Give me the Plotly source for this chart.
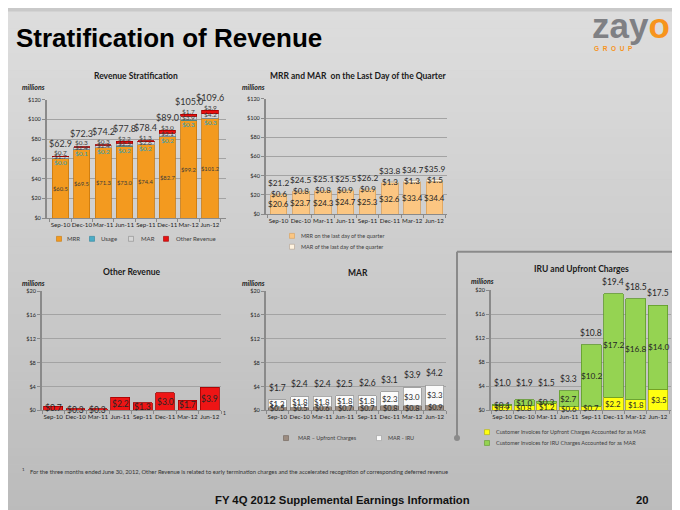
import plotly.graph_objects as go

W, H = 680, 510
FONT = "Lato, Open Sans, sans-serif"
SANS = "Liberation Sans, Arial, sans-serif"

quarters = ["Sep-10", "Dec-10", "Mar-11", "Jun-11", "Sep-11", "Dec-11", "Mar-12", "Jun-12"]

# Revenue Stratification
rev_mrr = [60.5, 69.5, 71.3, 73.0, 74.4, 82.7, 99.2, 101.2]
rev_usage = [0.0, 0.1, 0.2, 0.2, 0.2, 0.2, 0.3, 0.3]
rev_mar = [1.7, 2.4, 2.4, 2.5, 2.6, 3.1, 3.9, 4.2]
rev_other = [0.7, 0.3, 0.3, 2.2, 1.3, 3.0, 1.7, 3.9]
rev_total = [62.9, 72.3, 74.2, 77.8, 78.4, 89.0, 105.0, 109.6]

# MRR and MAR on the last day of the quarter
ld_mrr = [20.6, 23.7, 24.3, 24.7, 25.3, 32.6, 33.4, 34.4]
ld_mar = [0.6, 0.8, 0.8, 0.9, 0.9, 1.3, 1.3, 1.5]
ld_total = [21.2, 24.5, 25.1, 25.5, 26.2, 33.8, 34.7, 35.9]

# Other Revenue
other_rev = [0.7, 0.3, 0.3, 2.2, 1.3, 3.0, 1.7, 3.9]

# MAR
mar_upfront = [0.5, 0.5, 0.6, 0.7, 0.7, 0.8, 0.8, 0.9]
mar_iru = [1.3, 1.8, 1.8, 1.8, 1.8, 2.3, 3.0, 3.3]
mar_total = [1.7, 2.4, 2.4, 2.5, 2.6, 3.1, 3.9, 4.2]

# IRU and Upfront Charges
inv_upfront = [0.9, 0.8, 1.2, 0.6, 0.7, 2.2, 1.8, 3.5]
inv_iru = [0.1, 1.0, 0.3, 2.7, 10.2, 17.2, 16.8, 14.0]
inv_total = [1.0, 1.9, 1.5, 3.3, 10.8, 19.4, 18.5, 17.5]


def xp(px):
    return px / W


def yp(py):
    return 1 - py / H


def money(v):
    return "${:.1f}".format(v)


fig = go.Figure()
layout = dict(
    width=W, height=H, margin=dict(l=0, r=0, t=0, b=0),
    paper_bgcolor="#c9c9c9", plot_bgcolor="rgba(0,0,0,0)",
    barmode="stack", showlegend=False, font=dict(family=FONT, color="#333333"),
)
shapes = []
annotations = []

# background gradient
nb = 60
for i in range(nb):
    t = i / (nb - 1)
    c = int(round(221 - (221 - 187) * t))
    shapes.append(dict(type="rect", xref="paper", yref="paper", layer="below",
                       x0=0, x1=1, y0=1 - (i + 1) / nb, y1=1 - i / nb + 0.001,
                       fillcolor="rgb({0},{0},{0})".format(c), line=dict(width=0)))

panels = {
    1: dict(x=(39, 218), y=(209, 89), rng=(0, 120), dtick=20),
    2: dict(x=(258, 439), y=(205, 88), rng=(0, 120), dtick=20),
    3: dict(x=(34, 213), y=(404, 283), rng=(0, 20), dtick=4),
    4: dict(x=(258, 438), y=(404, 283), rng=(0, 20), dtick=4),
    5: dict(x=(483, 663), y=(404, 282), rng=(0, 20), dtick=4),
}
for i, p in panels.items():
    s = "" if i == 1 else str(i)
    layout["xaxis" + s] = dict(
        domain=[xp(p["x"][0]), xp(p["x"][1])], anchor="y" + s, type="category",
        categoryorder="array", categoryarray=quarters, tickangle=0,
        showline=True, linecolor="#8a8a8a", linewidth=1, ticks="outside",
        tickson="boundaries", ticklen=3, tickcolor="#8a8a8a",
        tickfont=dict(size=6.2, color="#1f1f1f", family=FONT), showgrid=False,
    )
    layout["yaxis" + s] = dict(
        domain=[yp(p["y"][0]), yp(p["y"][1])], anchor="x" + s,
        range=list(p["rng"]), dtick=p["dtick"], tickprefix="$",
        showgrid=True, gridcolor="#a3a3a3", gridwidth=1, zeroline=False,
        showline=True, linecolor="#8a8a8a", linewidth=2, ticks="outside",
        ticklen=3, tickcolor="#8a8a8a",
        tickfont=dict(size=5.6, color="#262626", family=FONT),
    )


def add_bar(i, vals, color, line, width, name):
    s = "" if i == 1 else str(i)
    fig.add_trace(go.Bar(x=quarters, y=vals, name=name, xaxis="x" + s, yaxis="y" + s,
                         width=width, marker=dict(color=color, line=dict(color=line, width=0.8)),
                         cliponaxis=False, hoverinfo="skip"))


def lab(i, x, y, text, size, color="#262626", yshift=0):
    s = "" if i == 1 else str(i)
    annotations.append(dict(xref="x" + s, yref="y" + s, x=x, y=y, text=text, showarrow=False,
                            yshift=yshift, font=dict(size=size, color=color, family=FONT)))


def ptext(px, py, text, size, color="#262626", anchor="center", family=FONT, bold=False, italic=False):
    if bold:
        text = "<b>" + text + "</b>"
    if italic:
        text = "<i>" + text + "</i>"
    annotations.append(dict(xref="paper", yref="paper", x=xp(px), y=yp(py), text=text,
                            showarrow=False, xanchor=anchor, yanchor="middle",
                            font=dict(size=size, color=color, family=family)))


def swatch(px, py, color, line="#7f7f7f", size=5):
    shapes.append(dict(type="rect", xref="paper", yref="paper",
                       x0=xp(px - size / 2), x1=xp(px + size / 2),
                       y0=yp(py + size / 2), y1=yp(py - size / 2),
                       fillcolor=color, line=dict(color=line, width=0.6)))


# ---- Panel 1: Revenue Stratification
add_bar(1, rev_mrr, "#f39a1f", "#c8780c", 0.76, "MRR")
add_bar(1, rev_usage, "#4bacc6", "#31859c", 0.76, "Usage")
add_bar(1, rev_mar, "#d6d6d6", "#8c8c8c", 0.76, "MAR")
add_bar(1, rev_other, "#e81010", "#a00000", 0.76, "Other Revenue")
for q, m, u, a, o, t in zip(quarters, rev_mrr, rev_usage, rev_mar, rev_other, rev_total):
    lab(1, q, m / 2, money(m), 5.8, "#3a3a3a")
    lab(1, q, m + u / 2, money(u), 6.5, "#2aa0bb", yshift=-4)
    lab(1, q, m + u + a / 2, money(a), 6.5, "#404040", yshift=1)
    lab(1, q, m + u + a + o / 2, money(o), 6.5, "#404040", yshift=4)
    lab(1, q, t, money(t), 9, "#333333", yshift=13)

# ---- Panel 2: MRR and MAR on the last day
add_bar(2, ld_mrr, "#fbc682", "#d9a05a", 0.74, "MRR on the last day of the quarter")
add_bar(2, ld_mar, "#fff3e0", "#c9b9a0", 0.74, "MAR of the last day of the quarter")
for q, m, a, t in zip(quarters, ld_mrr, ld_mar, ld_total):
    lab(2, q, m / 2, money(m), 8)
    lab(2, q, m + a / 2, money(a), 8)
    lab(2, q, t, money(t), 8.3, yshift=11)

# ---- Panel 3: Other Revenue
add_bar(3, other_rev, "#ee1515", "#a00000", 0.84, "Other Revenue")
for q, o in zip(quarters, other_rev):
    lab(3, q, o / 2, money(o), 8.5)

# ---- Panel 4: MAR
add_bar(4, mar_upfront, "#9c8c80", "#6e6258", 0.78, "MAR \u2013 Upfront Charges")
add_bar(4, mar_iru, "#fbfbfb", "#9a9a9a", 0.78, "MAR - IRU")
for q, u, r, t in zip(quarters, mar_upfront, mar_iru, mar_total):
    lab(4, q, u / 2, money(u), 7.3)
    lab(4, q, u + r / 2, money(r), 7.8)
    lab(4, q, t, money(t), 8.5, yshift=12)

# ---- Panel 5: IRU and Upfront Charges
add_bar(5, inv_upfront, "#ffff10", "#b0b000", 0.88, "Customer Invoices for Upfront Charges Accounted for as MAR")
add_bar(5, inv_iru, "#95d352", "#5f9a2a", 0.88, "Customer Invoices for IRU Charges Accounted for as MAR")
for q, u, r, t in zip(quarters, inv_upfront, inv_iru, inv_total):
    lab(5, q, u / 2, money(u), 7.8)
    lab(5, q, u + r / 2, money(r), 8.3)
    lab(5, q, max(t, 2.6), money(t), 8.5, yshift=12)

# ---- chart titles & "millions"
ptext(128, 65, "Revenue Stratification", 8.5, "#1a1a1a", bold=True)
ptext(350, 65, "MRR and MAR  on the Last Day of the Quarter", 8.5, "#1a1a1a", bold=True)
ptext(124, 264, "Other Revenue", 8.5, "#1a1a1a", bold=True)
ptext(350, 265, "MAR", 8.5, "#1a1a1a", bold=True)
ptext(573, 261, "IRU and Upfront Charges", 8.5, "#1a1a1a", bold=True)
for mx, my in [(12, 76), (232, 76), (12, 275), (232, 275), (461, 273)]:
    ptext(mx, my, "millions", 7, "#1a1a1a", anchor="left", bold=True, italic=True)

# ---- legends
swatch(51, 230, "#f39a1f", "#c8780c")
ptext(57, 230, "MRR", 6, "#404040", anchor="left")
swatch(84, 230, "#4bacc6", "#31859c")
ptext(91, 230, "Usage", 6, "#404040", anchor="left")
swatch(123, 230, "#d6d6d6", "#8c8c8c")
ptext(131, 230, "MAR", 6, "#404040", anchor="left")
swatch(158, 230, "#e81010", "#a00000")
ptext(166, 230, "Other Revenue", 6, "#404040", anchor="left")

swatch(284, 227, "#fbc682", "#d9a05a")
ptext(291, 227, "MRR on the last day of the quarter", 5.5, "#404040", anchor="left")
swatch(284, 238, "#fff3e0", "#b0a090")
ptext(291, 238, "MAR of the last day of the quarter", 5.5, "#404040", anchor="left")

swatch(278, 432, "#9c8c80", "#6e6258")
ptext(288, 432, "MAR \u2013 Upfront Charges", 5.5, "#404040", anchor="left")
swatch(371, 432, "#fbfbfb", "#9a9a9a")
ptext(378, 432, "MAR - IRU", 5.5, "#404040", anchor="left")

swatch(479, 426, "#ffff10", "#b0b000")
ptext(486, 426, "Customer Invoices for Upfront Charges Accounted for as MAR", 5.5, "#404040", anchor="left")
swatch(479, 437, "#95d352", "#5f9a2a")
ptext(486, 437, "Customer Invoices for IRU Charges Accounted for as MAR", 5.5, "#404040", anchor="left")

# footnote marker on Other Revenue chart
ptext(216, 407, "1", 5, "#262626")

# decorative connector lines
shapes.append(dict(type="line", xref="paper", yref="paper", x0=xp(449), x1=xp(672), y0=yp(243), y1=yp(243),
                   line=dict(color="#8a8a8a", width=2)))
shapes.append(dict(type="line", xref="paper", yref="paper", x0=xp(449), x1=xp(449), y0=yp(243), y1=yp(431),
                   line=dict(color="#8a8a8a", width=2)))
for cx, cy in [(672, 243), (449, 432)]:
    shapes.append(dict(type="circle", xref="paper", yref="paper", x0=xp(cx - 3), x1=xp(cx + 3),
                       y0=yp(cy + 3), y1=yp(cy - 3), fillcolor="#8a8a8a", line=dict(width=0)))

# header
ptext(6, 26, "Stratification of Revenue", 26, "#000000", anchor="left", family=SANS, bold=True)
annotations.append(dict(xref="paper", yref="paper", x=xp(664), y=yp(14), showarrow=False,
                        text="<b><span style='color:#7f8084'>zay</span><span style='color:#f7941d'>o</span></b>",
                        font=dict(size=35, family=SANS),
                        xanchor="right", yanchor="middle"))
ptext(605, 37, "G\u00a0\u00a0R\u00a0\u00a0O\u00a0\u00a0U\u00a0\u00a0P", 6.5, "#f7941d", family=SANS, bold=True)

# footnote & footer
ptext(12, 464, "1", 4.5, "#333333", anchor="left")
ptext(20, 466, "For the three months ended June 30, 2012, Other Revenue is related to early termination charges "
               "and the accelerated recognition of corresponding deferred revenue", 5.8, "#333333", anchor="left")
ptext(334, 495, "FY 4Q 2012 Supplemental Earnings Information", 11.3, "#111111", family=SANS, bold=True)
ptext(634, 495, "20", 11.3, "#111111", family=SANS, bold=True)

layout["shapes"] = shapes
layout["annotations"] = annotations
fig.update_layout(**layout)
fig.write_html("out.html")
